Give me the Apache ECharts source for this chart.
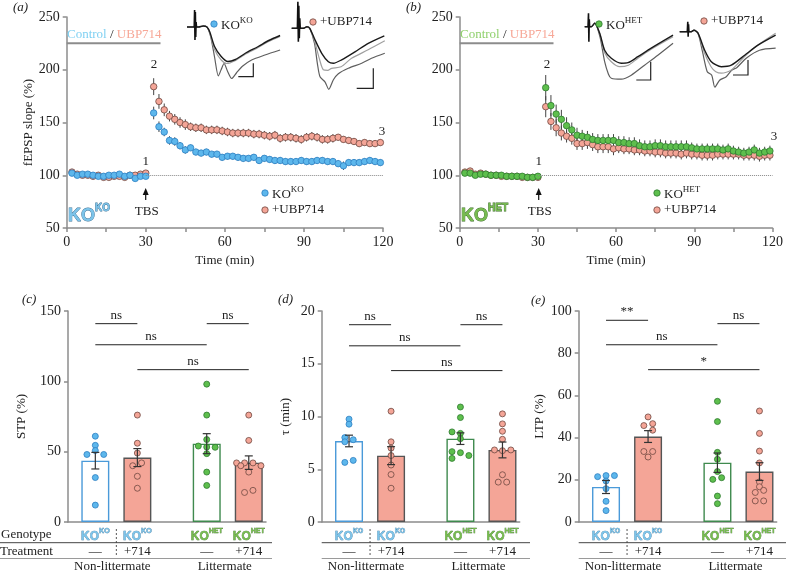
<!DOCTYPE html>
<html>
<head>
<meta charset="utf-8">
<script src="https://cdn.jsdelivr.net/npm/echarts@6/dist/echarts.min.js"></script>
<style>
  html, body { margin: 0; padding: 0; background: #fff; }
  #chart { width: 786px; height: 571px; }
</style>
</head>
<body>
<div id="chart"></div>
<script>
const serif = '"Liberation Serif", "Times New Roman", serif';
const sans = '"Liberation Sans", Arial, sans-serif';
const axisGray = "#8c8c8c";

// ---- time course (a, b) ----
const timeMin = [2, 4, 6, 8, 10, 12, 14, 16, 18, 20, 22, 24, 26, 28, 30,
  33, 35, 37, 39, 41, 43, 45, 47, 49, 51, 53, 55, 57, 59, 61, 63, 65, 67, 69, 71,
  73, 75, 77, 79, 81, 83, 85, 87, 89, 91, 93, 95, 97, 99, 101, 103, 105, 107, 109, 111,
  113, 115, 117, 119];

const koKoSlope = [102, 100, 101, 101, 100, 99, 99, 100, 100, 101, 99, 100, 97, 99, 99,
  159, 146, 141, 133, 132, 128, 124, 126, 122, 121, 122, 120, 120, 117, 118, 118, 117, 116, 116, 117,
  114, 116, 115, 114, 114, 113, 113, 113, 114, 113, 113, 114, 114, 113, 113, 111, 109, 112, 112, 112,
  113, 114, 113, 112];
const koKoSem = [1.5, 1, 1, 1, 1.5, 1, 1.5, 1, 1, 1.5, 1, 1.5, 2, 1.5, 1.5,
  6, 5, 4, 4, 4, 3.5, 3.5, 3, 3, 3, 3, 3, 3, 3, 3, 3, 3, 3, 3, 3,
  3, 3, 3, 3, 3, 3, 3, 3, 3, 3, 3, 3, 3, 3, 3, 3, 4, 3, 3, 3,
  3, 3, 3, 3];
const koKoUbpSlope = [103, 101, 100, 100, 99, 100, 98, 98, 99, 99, 98, 100, 100, 101, 102,
  184, 170, 162, 156, 153, 150, 148, 146, 145, 145, 143, 143, 143, 142, 141, 140, 140, 140, 140, 139,
  139, 138, 137, 138, 135, 136, 136, 135, 134, 136, 137, 136, 134, 134, 135, 136, 134, 133, 132, 130,
  131, 130, 130, 131];
const koKoUbpSem = [1.5, 1, 1, 1, 1.5, 1.5, 1.5, 1.5, 1, 1.5, 1.5, 1.5, 2, 1.5, 2,
  8, 7, 6, 5, 5, 5, 5, 4, 4, 4, 4, 4, 4, 4, 4, 4, 4, 4, 4, 4,
  4, 4, 4, 4, 4, 4, 4, 4, 4, 4, 4, 4, 4, 4, 4, 3, 3, 3, 3, 3,
  3, 3, 3, 3];
const koHetSlope = [102, 102, 100, 101, 101, 100, 100, 100, 99, 99, 99, 99, 98, 98, 99,
  183, 166, 158, 153, 147, 143, 138, 137, 136, 134, 133, 133, 133, 133, 131, 131, 130, 130, 128, 127,
  127, 128, 128, 127, 127, 127, 127, 127, 126, 125, 125, 125, 125, 125, 124, 125, 123, 122, 121, 122,
  124, 121, 122, 123];
const koHetSem = [1.5, 1.5, 1, 1, 1, 1, 1, 1, 1, 1, 1, 1, 1.5, 1.5, 1.5,
  12, 10, 9, 9, 8, 7, 7, 6, 6, 6, 6, 6, 6, 6, 6, 6, 6, 6, 6, 6,
  6, 6, 6, 6, 6, 6, 6, 6, 5, 5, 5, 5, 5, 5, 5, 5, 5, 5, 5, 5,
  5, 5, 5, 5];
const koHetUbpSlope = [103, 104, 101, 102, 101, 100, 100, 99, 99, 99, 99, 98, 98, 98, 98,
  165, 151, 145, 140, 137, 135, 130, 130, 131, 129, 127, 127, 127, 125, 126, 125, 125, 124, 124, 123,
  123, 122, 122, 121, 121, 121, 120, 121, 120, 120, 119, 119, 119, 120, 120, 120, 120, 120, 119, 119,
  119, 118, 119, 119];
const koHetUbpSem = [1.5, 1.5, 1, 1, 1, 1, 1, 1, 1, 1, 1, 1, 1.5, 1.5, 1.5,
  10, 8, 8, 7, 6, 6, 6, 6, 6, 6, 6, 6, 6, 6, 5, 5, 5, 5, 5, 5,
  5, 5, 5, 5, 5, 5, 5, 5, 5, 5, 5, 5, 5, 5, 5, 5, 5, 5, 5, 5,
  5, 5, 5, 5];

// ---- example traces (time, normalised amplitude) ----
const stimKoKo = [[7.6, 0], [8, 0.34], [8.4, -0.26], [8.8, 0.3], [9.2, -0.2], [9.6, 0.1], [10, 0]];
const traceKoKo1 = [[0, 0], [12, 0], [17, 0.02], [21, 0], [24, -0.1], [29, -0.39], [36, -0.59], [43, -0.69], [51, -0.65], [61, -0.53], [75, -0.39], [86, -0.27], [98, -0.17]];
const traceKoKo3 = [[0, 0], [12, 0], [17, 0.02], [21, 0], [24, -0.12], [29, -0.45], [36, -0.66], [42, -0.73], [50, -0.68], [61, -0.55], [75, -0.41], [86, -0.29], [98, -0.19]];
const traceKoKo2 = [[0, 0], [12, 0], [17, 0.02], [21, 0], [25, -0.2], [29, -0.6], [33, -0.98], [36, -0.85], [39, -0.73], [43, -0.9], [47, -1.03], [52, -0.92], [58, -0.79], [68, -0.66], [82, -0.56], [98, -0.46]];

const stimKoKoUbp = [[6, 0], [6.5, 0.53], [7, -0.27], [7.5, 0.45], [8, -0.2], [8.5, 0.2], [9, 0]];
const traceKoKoUbp1 = [[0, 0], [12, 0], [16, 0.03], [19, 0], [24.5, -0.23], [31.6, -0.5], [38.6, -0.67], [43.9, -0.7], [52.6, -0.63], [66.6, -0.47], [80.6, -0.3], [97.5, -0.15]];
const traceKoKoUbp3 = [[0, 0], [12, 0], [16, 0.03], [19, 0], [24, -0.25], [29, -0.6], [33.3, -0.83], [38, -0.84], [42, -0.8], [52, -0.77], [63, -0.6], [80.5, -0.43], [98, -0.25]];
const traceKoKoUbp2 = [[0, 0], [12, 0], [16, 0.03], [19, 0], [24, -0.3], [27, -0.7], [29.8, -0.97], [35, -1.07], [39, -1.22], [43.9, -1.03], [49.1, -0.91], [59.6, -0.8], [73.7, -0.7], [84, -0.6], [98, -0.5]];

const stimKoHet = [[3.5, 0], [4, 0.27], [4.4, -0.3], [4.8, 0.15], [5.2, 0]];
const traceKoHet1 = [[0, 0], [7, 0], [10.5, 0.07], [15.8, -0.13], [21, -0.47], [28, -0.63], [38.5, -0.73], [45.6, -0.72], [56, -0.6], [70, -0.43], [93, -0.17]];
const traceKoHet3 = [[0, 0], [7, 0], [10.5, 0.07], [16, -0.15], [21, -0.52], [28, -0.7], [36.8, -0.8], [46, -0.77], [56, -0.63], [70, -0.45], [93, -0.2]];
const traceKoHet2 = [[0, 0], [7, 0], [10.5, 0.07], [16, -0.2], [21, -0.7], [25, -0.95], [28, -1.03], [38.5, -1.05], [49, -0.97], [63, -0.77], [77, -0.57], [93, -0.33]];

const stimKoHetUbp = [[8, 0], [8.5, 0.2], [8.9, -0.1], [9.3, 0.15], [9.7, 0]];
const traceKoHetUbp1 = [[0, 0], [12, 0], [15, 0.03], [19.3, -0.03], [26.3, -0.37], [33.3, -0.6], [43.8, -0.7], [54.3, -0.67], [68.4, -0.47], [82.4, -0.27], [101, -0.07]];
const traceKoHetUbp3 = [[0, 0], [12, 0], [15, 0.03], [19.3, -0.03], [26, -0.42], [33, -0.7], [38, -0.8], [44, -0.83], [54, -0.77], [68, -0.5], [82, -0.27], [101, -0.03]];
const traceKoHetUbp2 = [[0, 0], [12, 0], [15, 0.03], [19.3, -0.03], [24, -0.4], [29, -0.8], [33.7, -0.87], [37, -1.11], [42, -0.97], [49, -0.9], [54.7, -0.77], [60, -0.72], [70, -0.53], [84, -0.37], [101, -0.33]];

// ---- summary (c, d, e) ----
const barPos = [0, 1, 2.65, 3.65];
const genotypeBase = ["KO", "KO", "KO", "KO"];
const genotypeSup = ["KO", "KO", "HET", "HET"];
const treatments = ["\u2014", "+714", "\u2014", "+714"];
const groupNames = ["Non-littermate", "Littermate"];

const stpMean = [43.6, 45.8, 55.7, 42.2];
const stpSem = [5.9, 6.4, 7.1, 4.8];
const stpPoints = [
  [61, 54.5, 50.8, 48, 48, 31.6, 12],
  [76, 56, 49, 40, 42, 32.5, 24],
  [98, 76, 58.6, 54, 53.3, 53.1, 48.6, 35.5, 26],
  [76, 58, 42, 42, 42, 40, 40, 35.5, 21, 22.5]
];
const stpJitter = [
  [0, 0, 0, -0.2, 0.2, 0, 0],
  [0, 0, 0, -0.11, 0.1, 0, 0],
  [0, 0, 0, -0.2, 0, 0.2, 0, 0, 0],
  [0, 0, -0.29, -0.1, 0.1, -0.19, 0.29, 0, -0.1, 0.1]
];
const stpBrackets = [[0, 1, 141, "ns"], [2, 3, 141, "ns"], [0, 2, 126, "ns"], [1, 3, 108.3, "ns"]];

const tauMean = [7.68, 6.29, 7.9, 6.83];
const tauSem = [0.55, 0.85, 0.55, 0.75];
const tauPoints = [
  [9.75, 9.27, 8.0, 7.8, 7.6, 5.65, 5.84],
  [10.5, 7.6, 7.0, 6.3, 5.4, 4.5, 3.2],
  [10.9, 9.9, 8.54, 8.4, 7.9, 6.67, 6.57, 6.03, 6.3],
  [10.25, 9.3, 8.6, 7.84, 6.83, 6.76, 6.83, 4.48, 3.78, 3.78]
];
const tauJitter = [
  [0, 0, -0.1, 0.1, -0.1, -0.1, 0.1],
  [0, 0, 0, 0, 0, 0, 0],
  [0, 0, -0.2, 0, 0, -0.2, 0, -0.2, 0.2],
  [0, 0, 0, 0, -0.19, 0, 0.2, 0, -0.1, 0.1]
];
const tauBrackets = [[0, 1, 18.7, "ns"], [2, 3, 18.7, "ns"], [0, 2, 16.7, "ns"], [1, 3, 14.35, "ns"]];

const ltpMean = [16.6, 40.5, 28.1, 23.9];
const ltpSem = [3.1, 2.8, 4.6, 4.2];
const ltpPoints = [
  [21.5, 22, 22, 19.4, 15.8, 9.8, 5.4],
  [49.8, 45.7, 46.6, 43.5, 33.4, 33.4, 30.8],
  [57.2, 47.6, 33, 29.7, 23.9, 20.2, 21, 12.3, 8.7],
  [52.6, 42, 33.6, 28, 19, 16.7, 14, 15, 10, 10]
];
const ltpJitter = [
  [-0.2, 0, 0.2, 0, 0, 0, 0],
  [0, -0.1, 0.11, 0.11, -0.1, 0.11, 0],
  [0, 0, 0, 0, 0, -0.11, 0.1, 0, 0],
  [0, 0, 0, 0, 0, 0, -0.1, 0.1, -0.1, 0.1]
];
const ltpBrackets = [[0, 1, 95.6, "**"], [2, 3, 94, "ns"], [0, 2, 84, "ns"], [1, 3, 72.2, "*"]];

// colours
const blue = { fill: "#5db7ec", edge: "#2d7fc1", text: "#7fd0f2", logo: "#7cc4ea", logoEdge: "#3d7195" };
const red = { fill: "#f4a597", edge: "#6e4740", text: "#f7a898" };
const green = { fill: "#5ebf4d", edge: "#2e7a30", text: "#8fd06c", logo: "#76bb4f", logoEdge: "#3c6b2a" };
const groupStyle = [
  { bar: "#ffffff", edge: "#4a9ad9", dot: blue },
  { bar: "#f4a597", edge: "#555555", dot: red },
  { bar: "#ffffff", edge: "#3f8a4e", dot: green },
  { bar: "#f4a597", edge: "#555555", dot: red }
];

// ---- helpers ----
function errLine(params, api) {
  const x = api.value(0), y = api.value(1), s = api.value(2);
  const hi = api.coord([x, y + s]), lo = api.coord([x, y - s]);
  return {
    type: "line",
    shape: { x1: hi[0], y1: hi[1], x2: lo[0], y2: lo[1] },
    style: { stroke: "#444", lineWidth: 1 }
  };
}

function capErr(params, api) {
  const x = api.value(0), m = api.value(1), s = api.value(2);
  const hi = api.coord([x, m + s]), lo = api.coord([x, m - s]);
  const st = { stroke: "#333", lineWidth: 1.2 };
  return {
    type: "group",
    children: [
      { type: "line", shape: { x1: hi[0], y1: hi[1], x2: lo[0], y2: lo[1] }, style: st },
      { type: "line", shape: { x1: hi[0] - 4, y1: hi[1], x2: hi[0] + 4, y2: hi[1] }, style: st },
      { type: "line", shape: { x1: lo[0] - 4, y1: lo[1], x2: lo[0] + 4, y2: lo[1] }, style: st }
    ]
  };
}

function bracketRender(brackets) {
  return (params, api) => {
    const a = api.coord([api.value(0), api.value(2)]);
    const b = api.coord([api.value(1), api.value(2)]);
    return {
      type: "group",
      children: [
        { type: "line", shape: { x1: a[0], y1: a[1], x2: b[0], y2: b[1] }, style: { stroke: "#222", lineWidth: 1 } },
        {
          type: "text", x: (a[0] + b[0]) / 2, y: a[1] - 2,
          style: { text: brackets[params.dataIndex][3], align: "center", verticalAlign: "bottom", fontFamily: serif, fontSize: 13, fill: "#222" }
        }
      ]
    };
  };
}

function seriesPair(xi, slope, sem, col, extra) {
  const pts = timeMin.map((t, i) => [t, slope[i]]);
  const errs = timeMin.map((t, i) => [t, slope[i], sem[i]]);
  return [
    { type: "custom", xAxisIndex: xi, yAxisIndex: xi, renderItem: errLine, data: errs, z: 2, silent: true },
    Object.assign({
      type: "scatter", xAxisIndex: xi, yAxisIndex: xi, data: pts, symbolSize: 6.5, z: 3,
      itemStyle: { color: col.fill, borderColor: col.edge, borderWidth: 0.8, opacity: 1 }
    }, extra || {})
  ];
}

const dottedBase = {
  markLine: {
    silent: true, symbol: "none", label: { show: false },
    lineStyle: { type: "dotted", color: "#888", width: 1 },
    data: [[{ coord: [30, 100] }, { coord: [120, 100] }]]
  }
};

function traceSeries(gi, stim, t1, t2, t3) {
  const mk = (d, c, w) => ({
    type: "line", xAxisIndex: gi, yAxisIndex: gi, data: d, showSymbol: false, smooth: 0.25,
    lineStyle: { color: c, width: w }, silent: true, z: 2
  });
  const s = mk(stim, "#111", 1.6);
  s.smooth = false;
  return [mk(t2, "#5e5e5e", 1.2), mk(t3, "#a0a0a0", 1.2), mk(t1, "#1a1a1a", 1.4), s];
}

// ---- grids & axes ----
const grids = [
  { left: 66.7, top: 17, width: 316.3, height: 211 },
  { left: 459.7, top: 17, width: 316.3, height: 211 },
  { left: 187, top: 0, width: 96.9, height: 90 },
  { left: 291.7, top: 0, width: 96.9, height: 95 },
  { left: 584.7, top: 0, width: 96.9, height: 90 },
  { left: 679.7, top: 0, width: 96.9, height: 90 },
  { left: 68, top: 311, width: 198, height: 211 },
  { left: 321.7, top: 311, width: 198, height: 211 },
  { left: 578.7, top: 311, width: 198, height: 211 }
];
const insetY = [[-1.26, 0.54], [-1.334, 0.566], [-1.266, 0.534], [-1.166, 0.634]];

const lineStyleAxis = { color: axisGray, width: 1.5 };
const labelStyle = { color: "#222", fontFamily: serif, fontSize: 14 };
const nameStyle = { color: "#222", fontFamily: serif, fontSize: 13 };

const xAxes = [], yAxes = [];
[0, 1].forEach((gi) => {
  xAxes.push({
    gridIndex: gi, type: "value", min: 0, max: 120, interval: 30,
    axisLine: { lineStyle: lineStyleAxis }, axisTick: { length: 4, lineStyle: lineStyleAxis },
    minorTick: { show: true, splitNumber: 2, length: 4, lineStyle: lineStyleAxis },
    axisLabel: Object.assign({ margin: 7 }, labelStyle), splitLine: { show: false },
    name: "Time (min)", nameLocation: "middle", nameGap: 26, nameTextStyle: nameStyle
  });
  yAxes.push({
    gridIndex: gi, type: "value", min: 50, max: 250, interval: 50,
    axisLine: { show: true, onZero: false, lineStyle: lineStyleAxis }, axisTick: { show: true, length: 4, lineStyle: lineStyleAxis },
    axisLabel: Object.assign({ margin: 7 }, labelStyle), splitLine: { show: false },
    name: gi === 0 ? "fEPSP slope (%)" : "", nameLocation: "middle", nameGap: 23, nameTextStyle: nameStyle
  });
});
insetY.forEach((r, k) => {
  xAxes.push({ gridIndex: 2 + k, type: "value", min: 0, max: 102, show: false });
  yAxes.push({ gridIndex: 2 + k, type: "value", min: r[0], max: r[1], show: false });
});

const barPanels = [
  { name: "STP (%)", max: 150, interval: 50, gap: 40, mean: stpMean, sem: stpSem, points: stpPoints, jitter: stpJitter, brackets: stpBrackets },
  { name: "\u03c4 (min)", max: 20, interval: 5, gap: 30, mean: tauMean, sem: tauSem, points: tauPoints, jitter: tauJitter, brackets: tauBrackets },
  { name: "LTP (%)", max: 100, interval: 20, gap: 33, mean: ltpMean, sem: ltpSem, points: ltpPoints, jitter: ltpJitter, brackets: ltpBrackets }
];

const series = [];
series.push(...seriesPair(0, koKoUbpSlope, koKoUbpSem, red, dottedBase));
series.push(...seriesPair(0, koKoSlope, koKoSem, blue));
series.push(...seriesPair(1, koHetUbpSlope, koHetUbpSem, red, dottedBase));
series.push(...seriesPair(1, koHetSlope, koHetSem, green));
series.push(...traceSeries(2, stimKoKo, traceKoKo1, traceKoKo2, traceKoKo3));
series.push(...traceSeries(3, stimKoKoUbp, traceKoKoUbp1, traceKoKoUbp2, traceKoKoUbp3));
series.push(...traceSeries(4, stimKoHet, traceKoHet1, traceKoHet2, traceKoHet3));
series.push(...traceSeries(5, stimKoHetUbp, traceKoHetUbp1, traceKoHetUbp2, traceKoHetUbp3));

barPanels.forEach((p, k) => {
  const gi = 6 + k;
  xAxes.push({
    gridIndex: gi, type: "value", min: -0.65, max: 4.06,
    axisLine: { lineStyle: lineStyleAxis }, axisTick: { show: false }, axisLabel: { show: false }, splitLine: { show: false }
  });
  yAxes.push({
    gridIndex: gi, type: "value", min: 0, max: p.max, interval: p.interval,
    axisLine: { show: true, onZero: false, lineStyle: lineStyleAxis }, axisTick: { show: true, length: 4, lineStyle: lineStyleAxis },
    axisLabel: Object.assign({ margin: 7 }, labelStyle), splitLine: { show: false },
    name: p.name, nameLocation: "middle", nameGap: p.gap, nameTextStyle: nameStyle
  });
  series.push({
    type: "bar", xAxisIndex: gi, yAxisIndex: gi, barWidth: 28, z: 2, silent: true,
    data: p.mean.map((m, i) => ({
      value: [barPos[i], m],
      itemStyle: { color: groupStyle[i].bar, borderColor: groupStyle[i].edge, borderWidth: 1.4 }
    }))
  });
  p.points.forEach((vals, i) => {
    const col = groupStyle[i].dot;
    series.push({
      type: "scatter", xAxisIndex: gi, yAxisIndex: gi, symbolSize: 6, z: 3, silent: true,
      data: vals.map((v, j) => [barPos[i] + p.jitter[i][j], v]),
      itemStyle: { color: col.fill, borderColor: col.edge, borderWidth: 0.8, opacity: 1 }
    });
  });
  series.push({
    type: "custom", xAxisIndex: gi, yAxisIndex: gi, renderItem: capErr, z: 4, silent: true,
    data: p.mean.map((m, i) => [barPos[i], m, p.sem[i]])
  });
  series.push({
    type: "custom", xAxisIndex: gi, yAxisIndex: gi, renderItem: bracketRender(p.brackets), z: 4, silent: true,
    data: p.brackets.map((b) => [barPos[b[0]], barPos[b[1]], b[2]])
  });
});

const chart = echarts.init(document.getElementById("chart"), null, { renderer: "canvas" });
chart.setOption({
  animation: false,
  backgroundColor: "#fff",
  grid: grids,
  xAxis: xAxes,
  yAxis: yAxes,
  series: series
});

// ---- annotations ----
function txt(x, y, text, o) {
  return {
    type: "text", x: x, y: y, z: 10, silent: true,
    style: Object.assign({ text: text, fontFamily: serif, fontSize: 13, fill: "#222", align: "left", verticalAlign: "middle" }, o || {})
  };
}
function supTxt(x, y, base, sup, o) {
  const s = o || {};
  const size = s.size || 13;
  const fam = s.family || serif;
  const weight = s.weight || "normal";
  const fill = s.fill || "#222";
  const tok = { fontFamily: fam, fontWeight: weight, fill: fill, stroke: s.stroke, lineWidth: s.lineWidth || 0 };
  return {
    type: "text", x: x, y: y, z: 10, silent: true,
    style: {
      text: "{b|" + base + "}{s|" + sup + "}", align: s.align || "left", verticalAlign: "middle",
      rich: {
        b: Object.assign({ fontSize: size, verticalAlign: "bottom", lineHeight: size * 1.2 }, tok),
        s: Object.assign({ fontSize: s.supSize || Math.round(size * 0.68), verticalAlign: "top", lineHeight: size * 0.68 }, tok)
      }
    }
  };
}
function dot(x, y, col) {
  return { type: "circle", z: 10, silent: true, shape: { cx: x, cy: y, r: 3.2 }, style: { fill: col.fill, stroke: col.edge, lineWidth: 0.8 } };
}
function hline(x1, x2, y, col, w, dash) {
  return { type: "line", z: 10, silent: true, shape: { x1: x1, y1: y, x2: x2, y2: y }, style: { stroke: col, lineWidth: w, lineDash: dash || null } };
}
function poly(points) {
  return { type: "polyline", z: 10, silent: true, shape: { points: points }, style: { stroke: "#222", lineWidth: 1.2, fill: null } };
}
function arrow(x, y) {
  return [
    { type: "line", z: 10, silent: true, shape: { x1: x, y1: y + 6, x2: x, y2: y + 12 }, style: { stroke: "#111", lineWidth: 1.2 } },
    { type: "polygon", z: 10, silent: true, shape: { points: [[x - 3, y + 7], [x + 3, y + 7], [x, y]] }, style: { fill: "#111" } }
  ];
}

const g = [];
// panel tags
g.push(txt(13, 8, "(a)", { fontStyle: "italic" }));
g.push(txt(406, 8, "(b)", { fontStyle: "italic" }));
g.push(txt(22, 300, "(c)", { fontStyle: "italic" }));
g.push(txt(278, 300, "(d)", { fontStyle: "italic" }));
g.push(txt(531, 301, "(e)", { fontStyle: "italic" }));

// Control / UBP714 bars
[[67, blue.text], [460, green.text]].forEach(([x0, c]) => {
  g.push({
    type: "text", x: x0, y: 35, z: 10, silent: true,
    style: {
      text: "{c|Control}{k| / }{u|UBP714}", verticalAlign: "middle",
      rich: {
        c: { fontFamily: serif, fontSize: 13, fill: c },
        k: { fontFamily: serif, fontSize: 13, fill: "#222" },
        u: { fontFamily: serif, fontSize: 13, fill: red.text }
      }
    }
  });
  g.push(hline(x0 - 0.3, x0 + 93.5, 43.3, "#8c8c8c", 2));
});

// stimulus marks and labels
[[0, 145.7], [393, 538.7]].forEach(([dx, ax]) => {
  g.push(...arrow(ax, 188));
  g.push(txt(ax + 1, 212, "TBS", { align: "center" }));
  g.push(txt(ax, 162, "1", { align: "center" }));
  g.push(txt(ax + 8.3, 65, "2", { align: "center" }));
});
g.push(txt(382, 132, "3", { align: "center" }));
g.push(txt(774, 137, "3", { align: "center" }));

// legends in a, b
g.push(dot(265, 193, blue), supTxt(272, 193, "KO", "KO"));
g.push(dot(265, 210, red), txt(272, 210, "+UBP714"));
g.push(dot(657, 193, green), supTxt(664, 193, "KO", "HET"));
g.push(dot(657, 210, red), txt(664, 210, "+UBP714"));

// inset labels + scale bars
g.push(dot(214, 24, blue), supTxt(221, 24, "KO", "KO"));
g.push(dot(313, 22, red), txt(320, 22, "+UBP714"));
g.push(dot(599, 24, green), supTxt(606, 24, "KO", "HET"));
g.push(dot(704, 21, red), txt(711, 21, "+UBP714"));
g.push(poly([[238.3, 76.7], [253.3, 76.7], [253.3, 63.3]]));
g.push(poly([[356.7, 88.3], [373.3, 88.3], [373.3, 68.3]]));
g.push(poly([[636.3, 80], [650.7, 80], [650.7, 61.7]]));
g.push(poly([[733, 75], [748, 75], [748, 60]]));

// genotype logos
g.push(supTxt(68, 214, "KO", "KO", { family: sans, weight: "bold", size: 18, supSize: 10, fill: blue.logo, stroke: blue.logoEdge, lineWidth: 0.8 }));
g.push(supTxt(461, 214, "KO", "HET", { family: sans, weight: "bold", size: 18, supSize: 10, fill: green.logo, stroke: green.logoEdge, lineWidth: 0.8 }));

// table under bar panels
const tableSpan = [[0, 272], [321.7, 530], [578.7, 786]];
[6, 7, 8].forEach((gi, k) => {
  const px = barPos.map((p) => chart.convertToPixel({ xAxisIndex: gi }, p));
  const logo = [blue, blue, green, green];
  px.forEach((x, i) => {
    g.push(supTxt(x, 535, genotypeBase[i], genotypeSup[i], {
      family: sans, weight: "bold", size: 12, supSize: 7, align: "center",
      fill: logo[i].logo, stroke: logo[i].logoEdge, lineWidth: 0.5
    }));
    g.push(txt(x, 551.5, treatments[i], { align: "center", fontSize: 13 }));
  });
  g.push(txt((px[0] + px[1]) / 2 - 4, 566.5, groupNames[0], { align: "center", fontSize: 13 }));
  g.push(txt((px[2] + px[3]) / 2 - 3, 566.5, groupNames[1], { align: "center", fontSize: 13 }));
  g.push(hline(tableSpan[k][0], tableSpan[k][1], 542.7, "#444", 1));
  g.push(hline(tableSpan[k][0], tableSpan[k][1], 558.5, "#9a9a9a", 1.2));
  const sx = (px[0] + px[1]) / 2;
  g.push({ type: "line", z: 10, silent: true, shape: { x1: sx, y1: 529, x2: sx, y2: 557 }, style: { stroke: "#444", lineWidth: 0.9, lineDash: [2, 2] } });
});
g.push(txt(1, 535, "Genotype", { fontSize: 13 }));
g.push(txt(0, 551.5, "Treatment", { fontSize: 13 }));

chart.setOption({ graphic: g });
</script>
</body>
</html>
